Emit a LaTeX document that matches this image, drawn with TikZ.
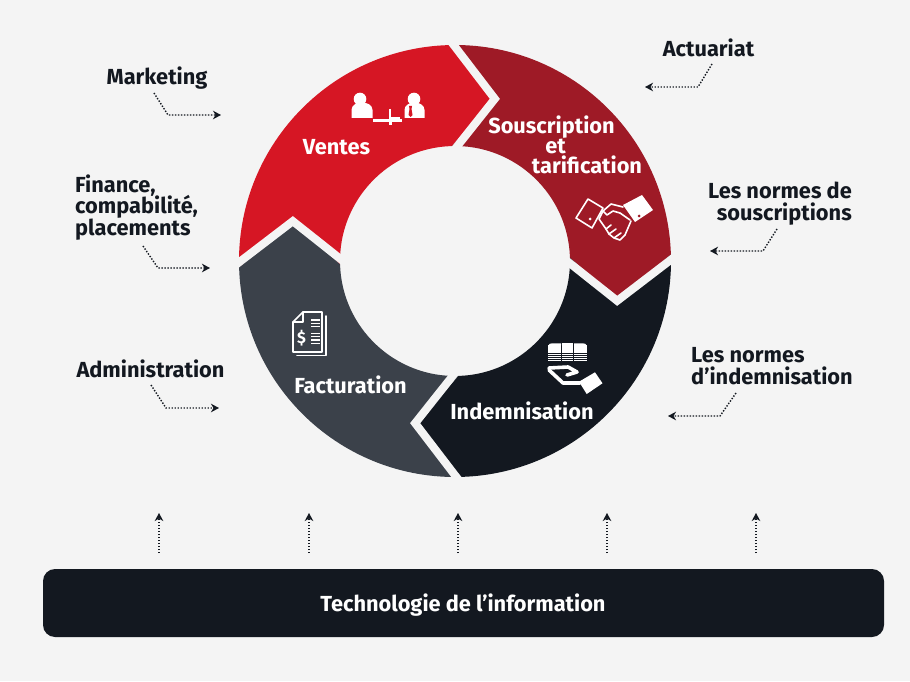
\documentclass[tikz,border=0pt]{standalone}
\usepackage{fontspec}
\setmainfont{Fira Sans}
\usetikzlibrary{arrows.meta,calc}
\definecolor{bg}{RGB}{244,244,244}
\definecolor{cred}{RGB}{214,22,36}
\definecolor{cdred}{RGB}{158,26,38}
\definecolor{cnavy}{RGB}{19,24,32}
\definecolor{cgrey}{RGB}{59,65,74}
\newcommand\Rout{216}
\newcommand\Rin{115}
\newcommand\Rmid{167}
\newcommand\dlt{15.5}
\newcommand\ringseg[3]{%
  \fill[#1] ($(C)+(#2:\Rout)$) arc[start angle=#2, end angle=#3, radius=\Rout]
    -- ($(C)+(#3-\dlt:\Rmid)$) -- ($(C)+(#3:\Rin)$)
    arc[start angle=#3, end angle=#2, radius=\Rin]
    -- ($(C)+(#2-\dlt:\Rmid)$) -- cycle;}
\newcommand\ringgap[1]{%
  \draw[gapline] ($(C)+(#1:\Rout+7)$) -- ($(C)+(#1-\dlt:\Rmid)$) -- ($(C)+(#1:\Rin-7)$);}
\tikzset{
  lbl/.style={text=cnavy, font=\bfseries\fontsize{21.8}{24}\selectfont, inner sep=0pt},
  inlbl/.style={text=white, font=\bfseries\fontsize{21.8}{24}\selectfont, inner sep=0pt},
  dotarrow/.style={cnavy, line width=1.4pt, dash pattern=on 1.4pt off 1.6pt,
    -{Stealth[length=8pt,width=8.5pt,inset=2.5pt]}},
  gapline/.style={bg, line width=8pt, line join=miter},
  icon/.style={white, line width=1.6pt, line join=round, line cap=round},
}
\begin{document}
\begin{tikzpicture}[x=1pt,y=1pt]
\useasboundingbox (0,0) rectangle (910,681);
\fill[bg] (0,0) rectangle (910,681);
\coordinate (C) at (455,420);
% ring
\ringseg{cred}{181.7}{91.7}
\ringseg{cdred}{91.7}{1.7}
\ringseg{cnavy}{1.7}{-88.3}
\ringseg{cgrey}{-88.3}{-178.3}
\ringgap{91.7}
\ringgap{1.7}
\ringgap{-88.3}
\ringgap{-178.3}
% ring labels
\node[inlbl, anchor=base] (ventes) at (336.5,526) {Ventes};
\node[inlbl, anchor=base] (sous1) at (551.5,547) {Souscription};
\node[inlbl, anchor=base] (sous2) at (555.5,527) {et};
\node[inlbl, anchor=base] (sous3) at (587,507) {tarification};
\node[inlbl, anchor=base] (fact) at (350.5,288) {Facturation};
\node[inlbl, anchor=base] (indem) at (522,262) {Indemnisation};
% icon: sales
\fill[white] (360,582) circle (6.3);
\fill[white] (351.5,563) -- (351.5,571) to[out=90,in=180] (362,578.5) to[out=0,in=90] (372.5,571) -- (372.5,563) -- cycle;
\fill[white] (414,582) circle (6.3);
\fill[white] (404.5,563) -- (404.5,571) to[out=90,in=180] (414.5,578.5) to[out=0,in=90] (424.5,571) -- (424.5,563) -- cycle;
\fill[cred] (409,575) -- (412,575) -- (411.5,572) -- (412.5,566) -- (410.5,564) -- (408.5,566) -- (409.5,572) -- cycle;
\fill[white] (373,561.7) rectangle (402,559.3);
\fill[white] (389,559.3) rectangle (392,556);
\draw[white, line width=1.8pt] (390,572) -- (390,562.8) -- (400,562.8);
% icon: handshake
\draw[icon] (576,463) -- (588,482) -- (603,473) -- (592,453) -- cycle;
\fill[white] (590,462) circle (1.5);
\fill[white] (623,476) -- (642,486) -- (653,471) -- (635,459) -- cycle;
\fill[cdred] (639,465) circle (1.5);
\draw[icon] (623,474) -- (611,477) -- (603,470) -- (607,466) -- (613,470) -- (620,468);
\draw[icon] (620,468) -- (630,461);
\draw[icon] (603,470) -- (599,462) -- (606,452);
\draw[icon] (606,452) -- (611,456);
\draw[icon] (606,452) -- (609,447) -- (616,452);
\draw[icon] (609,447) -- (614,443) -- (621,448);
\draw[icon] (614,443) -- (620,441) -- (625,446);
\draw[icon] (625,446) -- (631,460);
% icon: invoice
\draw[icon] (303,369) -- (322,369) -- (322,329) -- (293,329) -- (293,359) -- cycle;
\draw[icon] (293,359) -- (303,359) -- (303,369);
\draw[icon] (326,365) -- (326,325.5) -- (297,325.5);
\foreach \yy in {361,357.7,354.3,347.7,344.3,341,337.7}
  \draw[white, line width=1.4pt] (311,\yy) -- (320,\yy);
\node[text=white, font=\bfseries\fontsize{16}{16}\selectfont, inner sep=0pt] (dollar) at (301.5,342.5) {\$};
% icon: money in hand
\fill[white] (548.3,320) rectangle (561,335.5);
\fill[white] (548.3,335.5) to[out=80,in=180] (553,337.7) -- (561,337.7) -- (561,335.5) -- cycle;
\fill[white] (562,320) rectangle (573.3,337.7);
\fill[white] (574,320) rectangle (586.7,335.5);
\fill[white] (574,337.7) -- (582,337.7) to[out=0,in=100] (586.7,335.5) -- (574,335.5) -- cycle;
\foreach \yy in {328,326,324,322}
  \draw[cnavy, line width=0.7pt] (547,\yy) -- (588,\yy);
\draw[white, line width=3.6pt, line cap=round, line join=round] (549,313) -- (568,314) -- (577,309) -- (567,306);
\draw[white, line width=3.6pt, line cap=round, line join=round] (549,311) -- (563,298) -- (580,298);
\fill[white] (579,299.3) -- (595,308.7) -- (602.5,297.7) -- (586.7,287) -- cycle;
% outside labels
\node[lbl, anchor=base] (mkt) at (157,596) {Marketing};
\node[lbl, anchor=base west] (fin1) at (75,488.3) {Finance,};
\node[lbl, anchor=base west] (fin2) at (75,467) {compabilité,};
\node[lbl, anchor=base west] (fin3) at (75,445) {placements};
\node[lbl, anchor=base] (adm) at (150.5,304) {Administration};
\node[lbl, anchor=base] (act) at (708.5,624) {Actuariat};
\node[lbl, anchor=base east] (ns1) at (852,482) {Les normes de};
\node[lbl, anchor=base east] (ns2) at (852,460) {souscriptions};
\node[lbl, anchor=base west] (ni1) at (691,319) {Les normes};
\node[lbl, anchor=base west] (ni2) at (691,297) {d’indemnisation};
% side arrows
\coordinate (a1s) at (154,588); \coordinate (a1b) at (168,566); \coordinate (a1e) at (221,566);
\coordinate (a2s) at (143,435); \coordinate (a2b) at (158,413); \coordinate (a2e) at (210,413);
\coordinate (a3s) at (151,296); \coordinate (a3b) at (166,273); \coordinate (a3e) at (219,273);
\coordinate (a4s) at (712,617); \coordinate (a4b) at (698,594); \coordinate (a4e) at (645,594);
\coordinate (a5s) at (777,452); \coordinate (a5b) at (763,430); \coordinate (a5e) at (710,430);
\coordinate (a6s) at (736,288); \coordinate (a6b) at (720,265); \coordinate (a6e) at (668,265);
\foreach \k in {1,...,6} \draw[dotarrow] (a\k s) -- (a\k b) -- (a\k e);
% bottom bar
\node[fill=cnavy, rounded corners=12pt, minimum width=841pt, minimum height=68pt, inner sep=0pt] (itbar) at (463.5,78) {};
\node[inlbl, anchor=base] (ittext) at (463,69.5) {Technologie de l’information};
\foreach \xx [count=\k] in {159,309,458,607,756} {
  \coordinate (u\k s) at (\xx,128); \coordinate (u\k e) at (\xx,168);
  \draw[dotarrow] (u\k s) -- (u\k e);
}
\end{tikzpicture}
\end{document}
